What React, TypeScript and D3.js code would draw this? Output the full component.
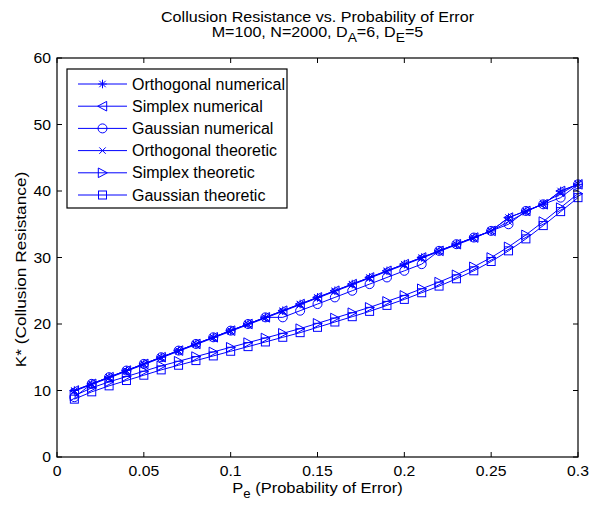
import React from "react";
import * as d3 from "d3";

const pe = [0.01,0.02,0.03,0.04,0.05,0.06,0.07,0.08,0.09,0.10,0.11,0.12,0.13,0.14,0.15,0.16,0.17,0.18,0.19,0.20,0.21,0.22,0.23,0.24,0.25,0.26,0.27,0.28,0.29,0.30];

const orthogonalNumerical = [10,11,12,13,14,15,16,17,18,19,20,21,22,23,24,25,26,27,28,29,30,31,32,33,34,36,37,38,40,41];
const simplexNumerical = [10,11,12,13,14,15,16,17,18,19,20,21,22,23,24,25,26,27,28,29,30,31,32,33,34,36,37,38,40,41];
const gaussianNumerical = [9,11,12,13,14,15,16,17,18,19,20,21,21,22,23,24,25,26,27,28,29,31,32,33,34,35,37,38,39,41];
const orthogonalTheoretic = [9.9,10.9,11.9,12.9,13.9,14.9,15.9,16.9,17.9,18.9,19.9,20.9,21.9,22.9,23.9,24.9,25.9,26.9,27.9,28.9,29.9,30.9,31.9,32.9,34.0,35.4,36.8,38.2,39.6,41.1];
const simplexTheoretic = [9.2,10.4,11.3,12.1,12.9,13.7,14.4,15.1,15.8,16.5,17.2,17.9,18.6,19.3,20.1,20.9,21.7,22.5,23.4,24.3,25.3,26.3,27.4,28.6,30.0,31.6,33.4,35.4,37.5,39.6];
const gaussianTheoretic = [8.7,9.8,10.7,11.5,12.3,13.1,13.8,14.5,15.2,15.9,16.6,17.3,18.0,18.7,19.5,20.3,21.1,21.9,22.8,23.7,24.7,25.7,26.8,28.0,29.4,31.0,32.8,34.8,36.9,39.0];

const seriesNames = ["Orthogonal numerical","Simplex numerical","Gaussian numerical","Orthogonal theoretic","Simplex theoretic","Gaussian theoretic"];
const seriesMarkers = ["star","tri-left","circle","cross","tri-right","square"];
const seriesValues = [orthogonalNumerical, simplexNumerical, gaussianNumerical, orthogonalTheoretic, simplexTheoretic, gaussianTheoretic];

const xTicks = [0,0.05,0.1,0.15,0.2,0.25,0.3];
const yTicks = [0,10,20,30,40,50,60];

const W = 591, H = 506;
const M = { left: 57, right: 578, top: 58, bottom: 457 };
const BLUE = "#0000ff";
const FONT = "'Liberation Sans', Arial, sans-serif";

function Marker({ type, x, y }: { type: string; x: number; y: number }) {
  const s = 4.3;
  const common = { fill: "none", stroke: BLUE, strokeWidth: 1 } as const;
  switch (type) {
    case "star":
      return (
        <g {...common}>
          <line x1={x - s} y1={y} x2={x + s} y2={y} />
          <line x1={x} y1={y - s} x2={x} y2={y + s} />
          <line x1={x - s * 0.75} y1={y - s * 0.75} x2={x + s * 0.75} y2={y + s * 0.75} />
          <line x1={x - s * 0.75} y1={y + s * 0.75} x2={x + s * 0.75} y2={y - s * 0.75} />
        </g>
      );
    case "cross":
      return (
        <g {...common}>
          <line x1={x - 3.2} y1={y - 3.2} x2={x + 3.2} y2={y + 3.2} />
          <line x1={x - 3.2} y1={y + 3.2} x2={x + 3.2} y2={y - 3.2} />
        </g>
      );
    case "circle":
      return <circle cx={x} cy={y} r={4.5} {...common} />;
    case "square":
      return <rect x={x - 4} y={y - 4} width={8} height={8} {...common} />;
    case "tri-left":
      return <path d={`M${x - 4.8},${y}L${x + 4.2},${y - 4.8}L${x + 4.2},${y + 4.8}Z`} {...common} />;
    case "tri-right":
      return <path d={`M${x + 4.8},${y}L${x - 4.2},${y - 4.8}L${x - 4.2},${y + 4.8}Z`} {...common} />;
    default:
      return null;
  }
}

function SText({ x, y, size, sx, anchor, rotate, children }: { x: number; y: number; size: number; sx: number; anchor?: string; rotate?: number; children: React.ReactNode }) {
  const rot = rotate ? ` rotate(${rotate})` : "";
  return (
    <text transform={`translate(${x},${y})${rot} scale(${sx},1)`} x={0} y={0} fontSize={size} textAnchor={anchor || "start"} fill="#000">
      {children}
    </text>
  );
}

export default function App() {
  const x = d3.scaleLinear().domain([0, 0.3]).range([M.left, M.right]);
  const y = d3.scaleLinear().domain([0, 60]).range([M.bottom, M.top]);
  const line = d3.line<[number, number]>().x(d => x(d[0])).y(d => y(d[1]));
  const tickLen = 5;

  const legendX = 67, legendY = 69, legendW = 220, legendH = 139;
  const rowH = 22.2;
  const cx = (M.left + M.right) / 2;

  return (
    <svg width={W} height={H} style={{ position: "absolute", left: 0, top: 0, background: "#fff" }} fontFamily={FONT}>
      <rect x={0} y={0} width={W} height={H} fill="#fff" />
      {/* title */}
      <SText x={cx} y={22} size={14} sx={1.15} anchor="middle">Collusion Resistance vs. Probability of Error</SText>
      <SText x={cx} y={37} size={14} sx={1.15} anchor="middle">
        M=100, N=2000, D<tspan dy={5} fontSize={12}>A</tspan><tspan dy={-5}>=6, D</tspan><tspan dy={5} fontSize={12}>E</tspan><tspan dy={-5}>=5</tspan>
      </SText>

      {/* series lines */}
      {seriesValues.map((vals, i) => (
        <path key={"l" + i} d={line(pe.map((p, j) => [p, vals[j]] as [number, number])) || ""} fill="none" stroke={BLUE} strokeWidth={1} />
      ))}
      {seriesValues.map((vals, i) => (
        <g key={"m" + i}>
          {pe.map((p, j) => (
            <Marker key={j} type={seriesMarkers[i]} x={x(p)} y={y(vals[j])} />
          ))}
        </g>
      ))}

      {/* axes box */}
      <rect x={M.left} y={M.top} width={M.right - M.left} height={M.bottom - M.top} fill="none" stroke="#000" strokeWidth={1.2} />
      {xTicks.map(t => (
        <g key={"xt" + t}>
          <line x1={x(t)} x2={x(t)} y1={M.bottom} y2={M.bottom - tickLen} stroke="#000" />
          <line x1={x(t)} x2={x(t)} y1={M.top} y2={M.top + tickLen} stroke="#000" />
          <SText x={x(t)} y={M.bottom + 19} size={15} sx={1.05} anchor="middle">{String(t)}</SText>
        </g>
      ))}
      {yTicks.map(t => (
        <g key={"yt" + t}>
          <line x1={M.left} x2={M.left + tickLen} y1={y(t)} y2={y(t)} stroke="#000" />
          <line x1={M.right} x2={M.right - tickLen} y1={y(t)} y2={y(t)} stroke="#000" />
          <SText x={M.left - 6} y={y(t) + 5} size={15} sx={1.05} anchor="end">{String(t)}</SText>
        </g>
      ))}

      {/* axis labels */}
      <SText x={cx} y={493} size={15} sx={1.1} anchor="middle">
        P<tspan dy={5} fontSize={12}>e</tspan><tspan dy={-5}> (Probability of Error)</tspan>
      </SText>
      <SText x={26} y={(M.top + M.bottom) / 2 + 12} size={15} sx={1.15} anchor="middle" rotate={-90}>
        K* (Collusion Resistance)
      </SText>

      {/* legend */}
      <rect x={legendX} y={legendY} width={legendW} height={legendH} fill="#fff" stroke="#000" strokeWidth={1.2} />
      {seriesNames.map((name, i) => {
        const cy = legendY + 15 + i * rowH;
        return (
          <g key={"lg" + i}>
            <line x1={78} x2={127} y1={cy} y2={cy} stroke={BLUE} strokeWidth={1} />
            <Marker type={seriesMarkers[i]} x={102.5} y={cy} />
            <SText x={132} y={cy + 5.5} size={16} sx={1}>{name}</SText>
          </g>
        );
      })}
    </svg>
  );
}
